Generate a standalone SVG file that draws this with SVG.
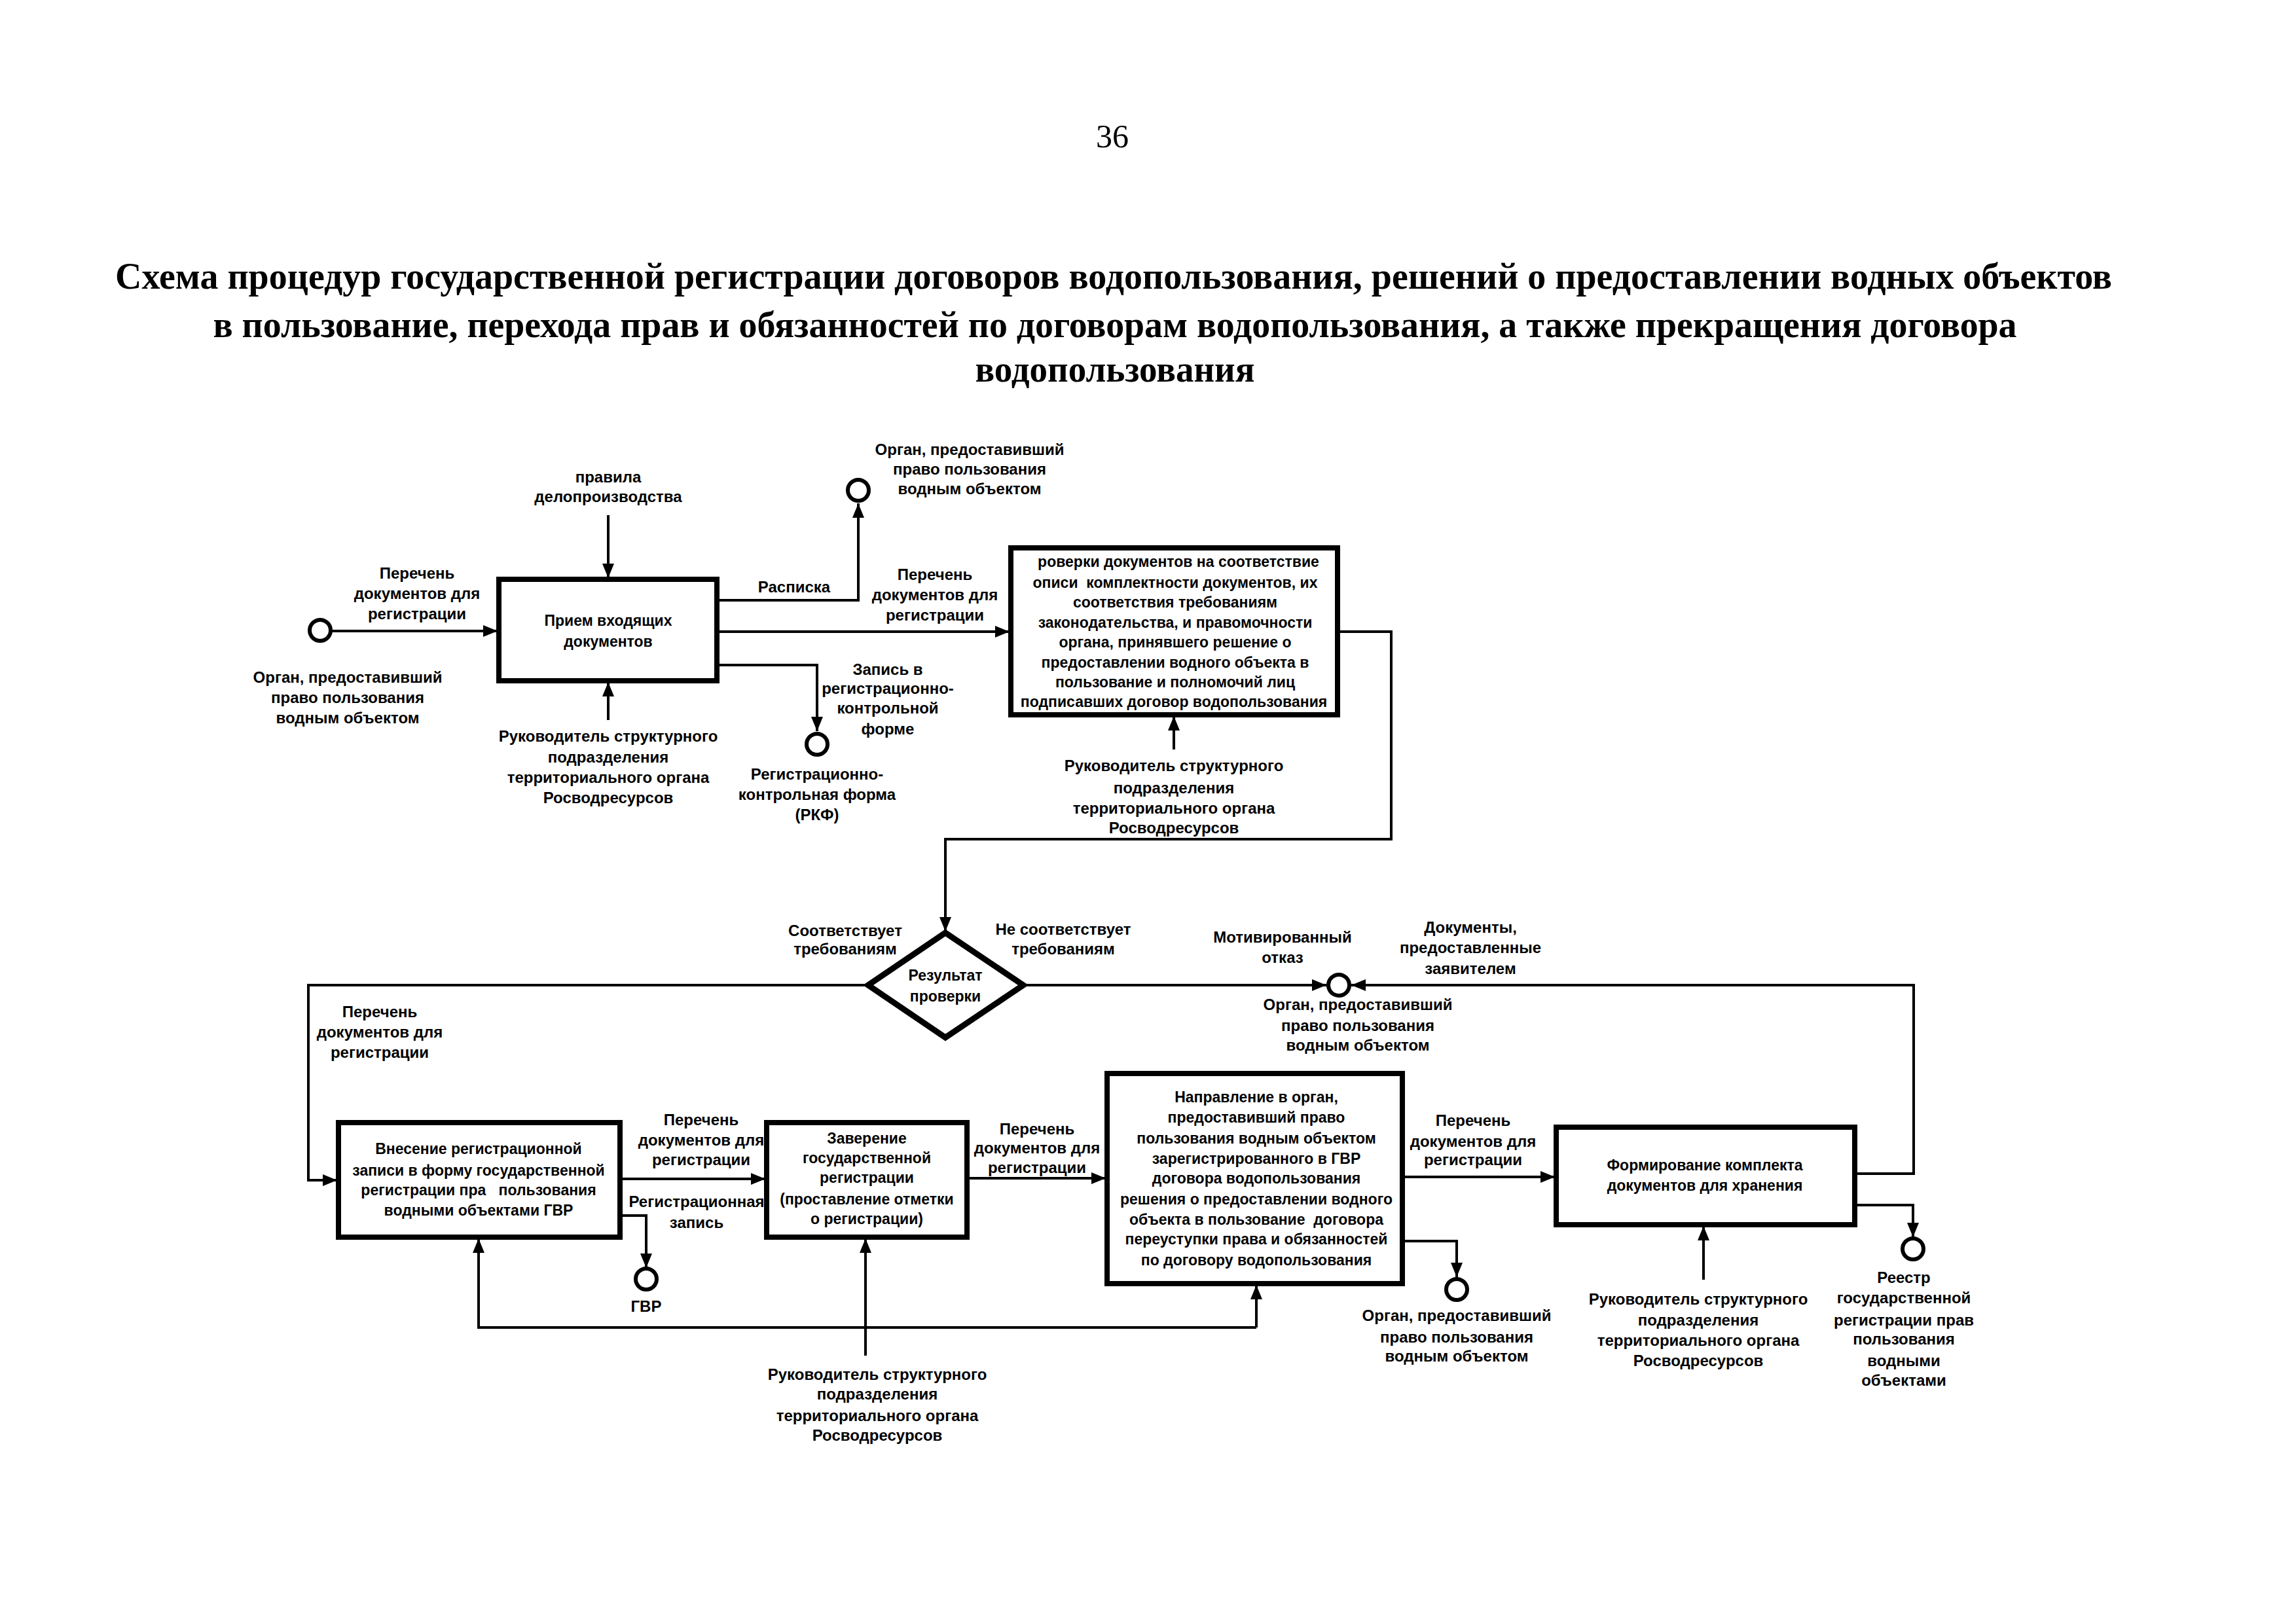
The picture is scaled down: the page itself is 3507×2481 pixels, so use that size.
<svg xmlns="http://www.w3.org/2000/svg" width="3507" height="2481" viewBox="0 0 3507 2481">
<style>
.t{font-family:"Liberation Sans",Arial,sans-serif;font-weight:bold;font-size:24px;text-anchor:middle;fill:#000}
.b{font-family:"Liberation Sans",Arial,sans-serif;font-weight:bold;font-size:23px;text-anchor:middle;fill:#000;white-space:pre}
.h{font-family:"Liberation Serif","Times New Roman",serif;font-weight:bold;font-size:56px;text-anchor:middle;fill:#000}
.box{fill:#fff;stroke:#000;stroke-width:8}
.c{fill:none;stroke:#000;stroke-width:4}
.o{fill:#fff;stroke:#000;stroke-width:6}
</style>
<defs>
<marker id="a" markerUnits="userSpaceOnUse" markerWidth="24" markerHeight="20" refX="22" refY="9" orient="auto">
<path d="M0,0 L22,9 L0,18 Z" fill="#000"/>
</marker>
</defs>
<rect width="3507" height="2481" fill="#fff"/>
<text x="1699" y="225" style="font-family:'Liberation Serif',serif;font-size:50px;text-anchor:middle">36</text>
<g id="title">
<text class="h" x="1701" y="441" textLength="3050" lengthAdjust="spacingAndGlyphs">Схема процедур государственной регистрации договоров водопользования, решений о предоставлении водных объектов</text>
<text class="h" x="1703" y="515" textLength="2755" lengthAdjust="spacingAndGlyphs">в пользование, перехода прав и обязанностей по договорам водопользования, а также прекращения договора</text>
<text class="h" x="1703" y="583" textLength="427" lengthAdjust="spacingAndGlyphs">водопользования</text>
</g>
<g id="connectors">
<path class="c" d="M506,964 L760,964" marker-end="url(#a)"/>
<path class="c" d="M929,787 L929,883" marker-end="url(#a)"/>
<path class="c" d="M929,1100 L929,1042" marker-end="url(#a)"/>
<path class="c" d="M1097,917 L1311,917 L1311,769" marker-end="url(#a)"/>
<path class="c" d="M1097,965 L1542,965" marker-end="url(#a)"/>
<path class="c" d="M1097,1016 L1248,1016 L1248,1117" marker-end="url(#a)"/>
<path class="c" d="M1793,1145 L1793,1094" marker-end="url(#a)"/>
<path class="c" d="M2045,965 L2125,965 L2125,1282 L1444,1282 L1444,1423" marker-end="url(#a)"/>
<path class="c" d="M1326,1505 L471,1505 L471,1803 L515,1803" marker-end="url(#a)"/>
<path class="c" d="M1563,1505 L2026,1505" marker-end="url(#a)"/>
<path class="c" d="M2835,1793 L2923,1793 L2923,1505 L2064,1505" marker-end="url(#a)"/>
<path class="c" d="M949,1801 L1169,1801" marker-end="url(#a)"/>
<path class="c" d="M949,1857 L987,1857 L987,1937" marker-end="url(#a)"/>
<path class="c" d="M1479,1800 L1689,1800" marker-end="url(#a)"/>
<path class="c" d="M2144,1798 L2375,1798" marker-end="url(#a)"/>
<path class="c" d="M2144,1896 L2225,1896 L2225,1951" marker-end="url(#a)"/>
<path class="c" d="M2835,1841 L2922,1841 L2922,1890" marker-end="url(#a)"/>
<path class="c" d="M1919,2028 L731,2028 L731,1892" marker-end="url(#a)"/>
<path class="c" d="M1919,2028 L1919,1963" marker-end="url(#a)"/>
<path class="c" d="M1322,2071 L1322,1892" marker-end="url(#a)"/>
<path class="c" d="M2602,1955 L2602,1873" marker-end="url(#a)"/>
</g>
<g id="src1">
<circle class="o" cx="489" cy="963" r="16"/>
<text class="t" x="637" y="884">Перечень</text>
<text class="t" x="637" y="915">документов для</text>
<text class="t" x="637" y="946">регистрации</text>
<text class="t" x="531" y="1043">Орган, предоставивший</text>
<text class="t" x="531" y="1074">право пользования</text>
<text class="t" x="531" y="1105">водным объектом</text>
</g>
<g id="box1">
<rect class="box" x="762" y="885" width="333" height="155"/>
<text class="b" x="929" y="956">Прием входящих</text>
<text class="b" x="929" y="988">документов</text>
<text class="t" x="929" y="737">правила</text>
<text class="t" x="929" y="767">делопроизводства</text>
<text class="t" x="929" y="1133">Руководитель структурного</text>
<text class="t" x="929" y="1165">подразделения</text>
<text class="t" x="929" y="1196">территориального органа</text>
<text class="t" x="929" y="1227">Росводресурсов</text>
</g>
<g id="out-raspiska">
<circle class="o" cx="1311" cy="749" r="16"/>
<text class="t" x="1213" y="905">Расписка</text>
<text class="t" x="1481" y="695">Орган, предоставивший</text>
<text class="t" x="1481" y="725">право пользования</text>
<text class="t" x="1481" y="755">водным объектом</text>
<text class="t" x="1428" y="886">Перечень</text>
<text class="t" x="1428" y="917">документов для</text>
<text class="t" x="1428" y="948">регистрации</text>
</g>
<g id="out-rkf">
<circle class="o" cx="1248" cy="1137" r="16"/>
<text class="t" x="1356" y="1031">Запись в</text>
<text class="t" x="1356" y="1060">регистрационно-</text>
<text class="t" x="1356" y="1090">контрольной</text>
<text class="t" x="1356" y="1122">форме</text>
<text class="t" x="1248" y="1191">Регистрационно-</text>
<text class="t" x="1248" y="1222">контрольная форма</text>
<text class="t" x="1248" y="1253">(РКФ)</text>
</g>
<g id="box2">
<rect class="box" x="1544" y="837" width="499" height="255"/>
<text class="b" x="1800" y="866">роверки документов на соответствие</text>
<text class="b" x="1795" y="898">описи  комплектности документов, их</text>
<text class="b" x="1795" y="928">соответствия требованиям</text>
<text class="b" x="1795" y="959">законодательства, и правомочности</text>
<text class="b" x="1795" y="989">органа, принявшего решение о</text>
<text class="b" x="1795" y="1020">предоставлении водного объекта в</text>
<text class="b" x="1795" y="1050">пользование и полномочий лиц</text>
<text class="b" x="1793" y="1080">подписавших договор водопользования</text>
<text class="t" x="1793" y="1178">Руководитель структурного</text>
<text class="t" x="1793" y="1212">подразделения</text>
<text class="t" x="1793" y="1243">территориального органа</text>
<text class="t" x="1793" y="1273">Росводресурсов</text>
</g>
<g id="decision">
<polygon points="1444,1425 1563,1505 1444,1585 1326,1505" fill="#fff" stroke="#000" stroke-width="9"/>
<text class="b" x="1444" y="1498">Результат</text>
<text class="b" x="1444" y="1530">проверки</text>
<text class="t" x="1291" y="1430">Соответствует</text>
<text class="t" x="1291" y="1458">требованиям</text>
<text class="t" x="1624" y="1428">Не соответствует</text>
<text class="t" x="1624" y="1458">требованиям</text>
<text class="t" x="580" y="1554">Перечень</text>
<text class="t" x="580" y="1585">документов для</text>
<text class="t" x="580" y="1616">регистрации</text>
</g>
<g id="refusal">
<circle class="o" cx="2045" cy="1505" r="16"/>
<text class="t" x="1959" y="1440">Мотивированный</text>
<text class="t" x="1959" y="1471">отказ</text>
<text class="t" x="2246" y="1425">Документы,</text>
<text class="t" x="2246" y="1456">предоставленные</text>
<text class="t" x="2246" y="1488">заявителем</text>
<text class="t" x="2074" y="1543">Орган, предоставивший</text>
<text class="t" x="2074" y="1575">право пользования</text>
<text class="t" x="2074" y="1605">водным объектом</text>
</g>
<g id="box3">
<rect class="box" x="517" y="1715" width="430" height="175"/>
<text class="b" x="731" y="1763">Внесение регистрационной</text>
<text class="b" x="731" y="1796">записи в форму государственной</text>
<text class="b" x="731" y="1826">регистрации пра   пользования</text>
<text class="b" x="731" y="1857">водными объектами ГВР</text>
<text class="t" x="1071" y="1719">Перечень</text>
<text class="t" x="1071" y="1750">документов для</text>
<text class="t" x="1071" y="1780">регистрации</text>
<text class="t" x="1064" y="1844">Регистрационная</text>
<text class="t" x="1064" y="1876">запись</text>
</g>
<g id="gvr">
<circle class="o" cx="987" cy="1954" r="16"/>
<text class="t" x="987" y="2004">ГВР</text>
</g>
<g id="box4">
<rect class="box" x="1171" y="1715" width="306" height="175"/>
<text class="b" x="1324" y="1747">Заверение</text>
<text class="b" x="1324" y="1777">государственной</text>
<text class="b" x="1324" y="1807">регистрации</text>
<text class="b" x="1324" y="1840">(проставление отметки</text>
<text class="b" x="1324" y="1870">о регистрации)</text>
<text class="t" x="1340" y="2108">Руководитель структурного</text>
<text class="t" x="1340" y="2138">подразделения</text>
<text class="t" x="1340" y="2171">территориального органа</text>
<text class="t" x="1340" y="2201">Росводресурсов</text>
<text class="t" x="1584" y="1733">Перечень</text>
<text class="t" x="1584" y="1762">документов для</text>
<text class="t" x="1584" y="1792">регистрации</text>
</g>
<g id="box5">
<rect class="box" x="1691" y="1640" width="451" height="321"/>
<text class="b" x="1919" y="1684">Направление в орган,</text>
<text class="b" x="1919" y="1715">предоставивший право</text>
<text class="b" x="1919" y="1747">пользования водным объектом</text>
<text class="b" x="1919" y="1778">зарегистрированного в ГВР</text>
<text class="b" x="1919" y="1808">договора водопользования</text>
<text class="b" x="1919" y="1840">решения о предоставлении водного</text>
<text class="b" x="1919" y="1871">объекта в пользование  договора</text>
<text class="b" x="1919" y="1901">переуступки права и обязанностей</text>
<text class="b" x="1919" y="1933">по договору водопользования</text>
<text class="t" x="2250" y="1720">Перечень</text>
<text class="t" x="2250" y="1752">документов для</text>
<text class="t" x="2250" y="1780">регистрации</text>
</g>
<g id="out-organ3">
<circle class="o" cx="2225" cy="1970" r="16"/>
<text class="t" x="2225" y="2018">Орган, предоставивший</text>
<text class="t" x="2225" y="2051">право пользования</text>
<text class="t" x="2225" y="2080">водным объектом</text>
</g>
<g id="box6">
<rect class="box" x="2377" y="1722" width="456" height="149"/>
<text class="b" x="2604" y="1788">Формирование комплекта</text>
<text class="b" x="2604" y="1819">документов для хранения</text>
<text class="t" x="2594" y="1993">Руководитель структурного</text>
<text class="t" x="2594" y="2025">подразделения</text>
<text class="t" x="2594" y="2056">территориального органа</text>
<text class="t" x="2594" y="2087">Росводресурсов</text>
</g>
<g id="reestr">
<circle class="o" cx="2922" cy="1908" r="16"/>
<text class="t" x="2908" y="1960">Реестр</text>
<text class="t" x="2908" y="1991">государственной</text>
<text class="t" x="2908" y="2025">регистрации прав</text>
<text class="t" x="2908" y="2054">пользования</text>
<text class="t" x="2908" y="2087">водными</text>
<text class="t" x="2908" y="2117">объектами</text>
</g>
</svg>
